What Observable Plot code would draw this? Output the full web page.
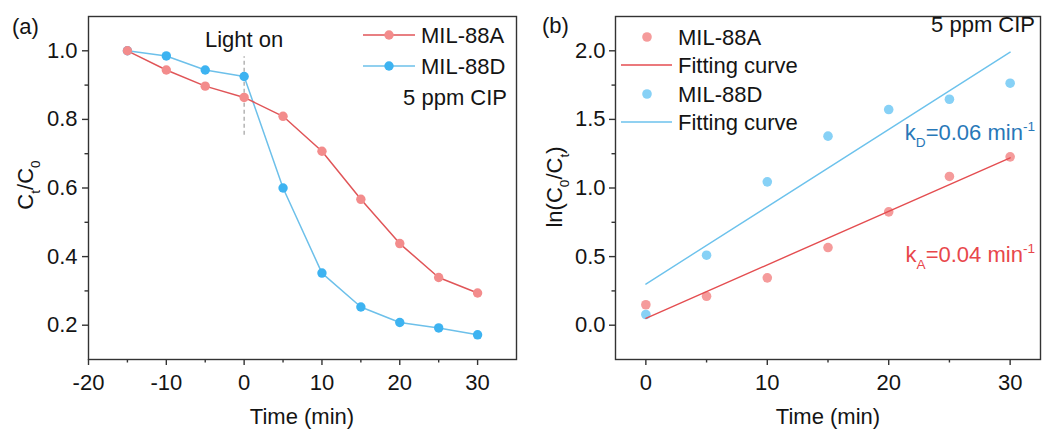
<!DOCTYPE html>
<html><head><meta charset="utf-8">
<script src="https://cdn.jsdelivr.net/npm/d3@7"></script>
<script src="https://cdn.jsdelivr.net/npm/@observablehq/plot@0.6"></script>
<style>
body{margin:0;background:#fff;font-family:Arial,"Liberation Sans",sans-serif;}
#wrap{position:relative;width:1046px;height:430px;overflow:hidden;}
#pa,#pb{position:absolute;top:0;}
#pa{left:0}#pb{left:523px}
</style></head><body>
<div id="wrap"><div id="pa"></div><div id="pb"></div></div>
<script>
// ---- Panel (a) data ----
const timeA = [-15, -10, -5, 0, 5, 10, 15, 20, 25, 30];
const ctA88A = [1.0, 0.944, 0.897, 0.864, 0.809, 0.707, 0.567, 0.438, 0.339, 0.294];
const ctA88D = [1.0, 0.985, 0.944, 0.925, 0.600, 0.352, 0.253, 0.208, 0.192, 0.172];
const lightOnX = [0];
const lightOnY = [0.754, 0.983];
const lightLabelY = [1.011];
const xTicksA = [-20, -10, 0, 10, 20, 30];
const xMinorA = [-15, -5, 5, 15, 25];
const yTicksA = [0.2, 0.4, 0.6, 0.8, 1.0];
const yMinorA = [0.3, 0.5, 0.7, 0.9];

// ---- Panel (b) data ----
const timeB = [0, 5, 10, 15, 20, 25, 30];
const lnA = [0.149, 0.211, 0.345, 0.566, 0.826, 1.084, 1.227];
const lnD = [0.078, 0.510, 1.045, 1.378, 1.572, 1.647, 1.764];
const fitT = [0, 30];
const fitA = [0.05, 1.22];
const fitD = [0.30, 1.99];
const xTicksB = [0, 10, 20, 30];
const xMinorB = [5, 15, 25];
const yTicksB = [0, 0.5, 1.0, 1.5, 2.0];
const yMinorB = [0.25, 0.75, 1.25, 1.75];

const series = ["MIL-88A", "MIL-88D"];
const C = {
  lineA: "#e05558", dotA: "#f38c8c",
  lineD: "#6dc0ea", dotD: "#3db3f1",
  ptA: "#f59b9b", ptD: "#87d1f6",
  fitA: "#e44d50", fitD: "#6cc2ec",
  kA: "#e8474b", kD: "#2878b8",
  ink: "#141414", frame: "#333333"
};
const FONT = "Arial, 'Liberation Sans', sans-serif";
const FS = 22;

function rich(sel, parts, {x, y, anchor = "start", rotate = 0, fill = C.ink, size = FS}) {
  const t = sel.append("text")
    .attr("transform", `translate(${x},${y}) rotate(${rotate})`)
    .attr("text-anchor", anchor).attr("fill", fill)
    .style("font-family", FONT).style("font-size", size + "px");
  let cur = 0;
  for (const [s, kind] of parts) {
    const shift = kind === "sub" ? 0.3 * size : kind === "sup" ? -0.42 * size : 0;
    t.append("tspan").attr("dy", shift - cur)
      .style("font-size", (kind ? 0.62 * size : size) + "px").text(s);
    cur = shift;
  }
  return t;
}

// ===== Panel (a) =====
const rowsA = [];
timeA.forEach((t, i) => { rowsA.push({t, v: ctA88A[i], s: series[0]}); });
timeA.forEach((t, i) => { rowsA.push({t, v: ctA88D[i], s: series[1]}); });
const rA = rowsA.filter(d => d.s === series[0]);
const rD = rowsA.filter(d => d.s === series[1]);

const plotA = Plot.plot({
  width: 523, height: 430,
  marginLeft: 88, marginRight: 7, marginTop: 16, marginBottom: 71,
  x: {domain: [-20, 35]},
  y: {domain: [0.1, 1.1]},
  style: {fontFamily: FONT, fontSize: FS + "px", color: C.ink, background: "white"},
  marks: [
    Plot.frame({stroke: C.frame, strokeWidth: 1.4}),
    Plot.axisX(xTicksA, {tickSize: 6, tickPadding: 9, tickFormat: d => String(d), label: null, stroke: C.frame, strokeWidth: 1.4}),
    Plot.axisX(xMinorA, {tickSize: 3.5, fill: "none", label: null, stroke: C.frame, strokeWidth: 1.4}),
    Plot.axisY(yTicksA, {tickSize: 6, tickPadding: 5, tickFormat: d3.format(".1f"), label: null, stroke: C.frame, strokeWidth: 1.4}),
    Plot.axisY(yMinorA, {tickSize: 3.5, fill: "none", label: null, stroke: C.frame, strokeWidth: 1.4}),
    Plot.ruleX(lightOnX, {x: d => d, y1: lightOnY[0], y2: lightOnY[1], stroke: "#a0a0a0", strokeWidth: 1.2, strokeDasharray: "4,3"}),
    Plot.text(lightOnX, {x: d => d, y: lightLabelY[0], text: () => "Light on", lineAnchor: "bottom", fontSize: FS, fill: C.ink}),
    Plot.line(rD, {x: "t", y: "v", stroke: C.lineD, strokeWidth: 1.5}),
    Plot.line(rA, {x: "t", y: "v", stroke: C.lineA, strokeWidth: 1.5}),
    Plot.dot(rD, {x: "t", y: "v", r: 4.7, fill: C.dotD}),
    Plot.dot(rA, {x: "t", y: "v", r: 4.7, fill: C.dotA})
  ]
});
document.getElementById("pa").appendChild(plotA);
{
  const s = d3.select(plotA);
  const leg = [[series[0], C.lineA, C.dotA, 35], [series[1], C.lineD, C.dotD, 66]];
  for (const [name, lc, dc, y] of leg) {
    s.append("line").attr("x1", 363).attr("x2", 415).attr("y1", y).attr("y2", y).attr("stroke", lc).attr("stroke-width", 1.5);
    s.append("circle").attr("cx", 389).attr("cy", y).attr("r", 4.7).attr("fill", dc);
    rich(s, [[name]], {x: 421, y: y + 8});
  }
  rich(s, [["5 ppm CIP"]], {x: 507, y: 105, anchor: "end"});
  rich(s, [["(a)"]], {x: 12, y: 34});
  rich(s, [["Time (min)"]], {x: 302, y: 424, anchor: "middle"});
  rich(s, [["C"], ["t", "sub"], ["/C"], ["0", "sub"]], {x: 33, y: 185, anchor: "middle", rotate: -90});
}

// ===== Panel (b) =====
const ptsB = [];
timeB.forEach((t, i) => ptsB.push({t, v: lnA[i], s: series[0]}));
timeB.forEach((t, i) => ptsB.push({t, v: lnD[i], s: series[1]}));
const fitRows = [];
fitT.forEach((t, i) => fitRows.push({t, v: fitA[i], s: series[0]}));
fitT.forEach((t, i) => fitRows.push({t, v: fitD[i], s: series[1]}));

const plotB = Plot.plot({
  width: 523, height: 430,
  marginLeft: 92, marginRight: 6, marginTop: 16, marginBottom: 71,
  x: {domain: [-2.5, 32.5]},
  y: {domain: [-0.25, 2.25]},
  style: {fontFamily: FONT, fontSize: FS + "px", color: C.ink, background: "white"},
  marks: [
    Plot.frame({stroke: C.frame, strokeWidth: 1.4}),
    Plot.axisX(xTicksB, {tickSize: 6, tickPadding: 9, tickFormat: d => String(d), label: null, stroke: C.frame, strokeWidth: 1.4}),
    Plot.axisX(xMinorB, {tickSize: 3.5, fill: "none", label: null, stroke: C.frame, strokeWidth: 1.4}),
    Plot.axisY(yTicksB, {tickSize: 6, tickPadding: 4, tickFormat: d3.format(".1f"), label: null, stroke: C.frame, strokeWidth: 1.4}),
    Plot.axisY(yMinorB, {tickSize: 3.5, fill: "none", label: null, stroke: C.frame, strokeWidth: 1.4}),
    Plot.dot(ptsB.filter(d => d.s === series[0]), {x: "t", y: "v", r: 4.8, fill: C.ptA}),
    Plot.dot(ptsB.filter(d => d.s === series[1]), {x: "t", y: "v", r: 4.8, fill: C.ptD}),
    Plot.line(fitRows.filter(d => d.s === series[0]), {x: "t", y: "v", stroke: C.fitA, strokeWidth: 1.4}),
    Plot.line(fitRows.filter(d => d.s === series[1]), {x: "t", y: "v", stroke: C.fitD, strokeWidth: 1.4})
  ]
});
document.getElementById("pb").appendChild(plotB);
{
  const s = d3.select(plotB);
  const rows = [
    [series[0], "dot", C.ptA, 37],
    ["Fitting curve", "line", C.fitA, 65],
    [series[1], "dot", C.ptD, 94],
    ["Fitting curve", "line", C.fitD, 122]
  ];
  for (const [name, kind, col, y] of rows) {
    if (kind === "dot") s.append("circle").attr("cx", 124).attr("cy", y).attr("r", 4.8).attr("fill", col);
    else s.append("line").attr("x1", 98).attr("x2", 149).attr("y1", y).attr("y2", y).attr("stroke", col).attr("stroke-width", 1.4);
    rich(s, [[name]], {x: 155, y: y + 8});
  }
  rich(s, [["5 ppm CIP"]], {x: 512, y: 32, anchor: "end"});
  rich(s, [["k"], ["D", "sub"], ["=0.06 min"], ["-1", "sup"]], {x: 512, y: 140, anchor: "end", fill: C.kD});
  rich(s, [["k"], ["A", "sub"], ["=0.04 min"], ["-1", "sup"]], {x: 512, y: 262, anchor: "end", fill: C.kA});
  rich(s, [["(b)"]], {x: 19, y: 33});
  rich(s, [["Time (min)"]], {x: 305, y: 424, anchor: "middle"});
  rich(s, [["ln(C"], ["0", "sub"], ["/C"], ["t", "sub"], [")"]], {x: 39, y: 187, anchor: "middle", rotate: -90});
}
</script>
</body></html>
